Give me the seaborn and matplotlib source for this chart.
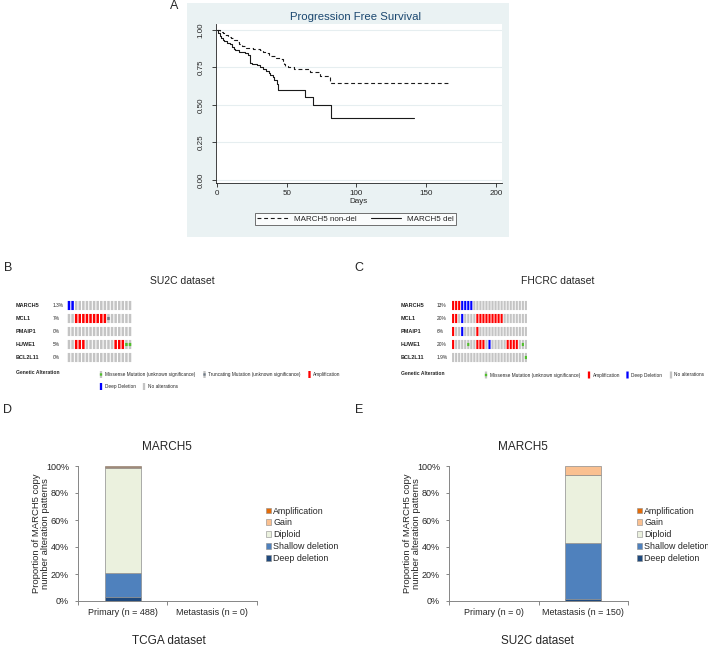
"""
Multi-panel MARCH5 figure: PFS curve, oncoprints and copy-number stacked bars
"""
import numpy as np
import matplotlib
matplotlib.use('Agg')
import matplotlib.pyplot as plt
from matplotlib.patches import Rectangle, Patch
from matplotlib.lines import Line2D
import seaborn as sns

sns.set_theme(style='white')
plt.rcParams['font.family'] = ['Liberation Sans', 'DejaVu Sans']

# ---- Panel A: Kaplan-Meier steps ----
nondel_days = [0, 2, 4, 6, 8, 10, 12, 14, 16, 18, 21, 26, 31, 33, 35, 37, 39, 42, 45, 47,
               48, 49, 51, 55, 67, 74, 81, 166]
nondel_surv = [1.0, 0.99, 0.98, 0.965, 0.955, 0.945, 0.935, 0.92, 0.91, 0.895, 0.88, 0.875,
               0.865, 0.855, 0.845, 0.835, 0.825, 0.815, 0.805, 0.79, 0.775, 0.76, 0.75,
               0.74, 0.72, 0.69, 0.645, 0.645]
del_days = [0, 1, 2, 3, 4, 5, 7, 9, 11, 12, 13, 16, 20, 22, 24, 25, 29, 31, 33, 35,
            37, 38, 40, 41, 43, 44, 63, 69, 82, 141]
del_surv = [1.0, 0.98, 0.96, 0.95, 0.935, 0.925, 0.915, 0.905, 0.89, 0.875, 0.865, 0.855,
            0.845, 0.835, 0.78, 0.775, 0.765, 0.755, 0.74, 0.725, 0.71, 0.70, 0.685, 0.665,
            0.64, 0.60, 0.55, 0.50, 0.415, 0.415]

# ---- Panels B/C: oncoprints ('.' none, A amp, D deep del, M missense, T truncating) ----
genes = ['MARCH5', 'MCL1', 'PMAIP1', 'HUWE1', 'BCL2L11']
su2c_rows = ['DD................',
             '..AAAAAAAAAT......',
             '..................',
             '..AAA........AAAMM',
             '..................']
su2c_pcts = ['1.3%', '7%', '0%', '5%', '0%']
fhcrc_rows = ['AAADDDD..................',
              'AA.D....AAAAAAAAA........',
              'A..D....A................',
              'A....M..AAA.D.....AAAA.M.',
              '........................M']
fhcrc_pcts = ['13%', '20%', '6%', '20%', '1.9%']

# ---- Panels D/E: copy number proportions (%) ----
cn_names = ['Deep deletion', 'Shallow deletion', 'Diploid', 'Gain', 'Amplification']
cn_colors = ['#1f497d', '#4f81bd', '#ebf1de', '#fac090', '#e46c0a']
tcga_groups = ['Primary (n = 488)', 'Metastasis (n = 0)']
tcga_values = {'Deep deletion': [3.2, 0], 'Shallow deletion': [17.6, 0],
               'Diploid': [77.5, 0], 'Gain': [1.2, 0], 'Amplification': [0.5, 0]}
su2c_groups = ['Primary (n = 0)', 'Metastasis (n = 150)']
su2c_values = {'Deep deletion': [0, 1.3], 'Shallow deletion': [0, 41.7],
               'Diploid': [0, 50.7], 'Gain': [0, 6.3], 'Amplification': [0, 0]}

W, H = 708, 646
fig = plt.figure(figsize=(W / 100, H / 100), dpi=100)


def add_ax(x0, y0, x1, y1):
    """axes from pixel box (top-left origin)"""
    return fig.add_axes([x0 / W, 1 - y1 / H, (x1 - x0) / W, (y1 - y0) / H])


def ftext(x, y, s, **kw):
    kw.setdefault('ha', 'center')
    kw.setdefault('va', 'center')
    fig.text(x / W, 1 - y / H, s, **kw)


def frect(xc, yc, w, h, color):
    fig.patches.append(Rectangle(((xc - w / 2) / W, 1 - (yc + h / 2) / H), w / W, h / H,
                                 transform=fig.transFigure, facecolor=color,
                                 edgecolor='none', zorder=2, snap=False))


# ================= Panel A =================
fig.patches.append(Rectangle((187 / W, 1 - 237 / H), (509 - 187) / W, (237 - 3) / H,
                             transform=fig.transFigure, facecolor='#eaf2f3',
                             edgecolor='none', zorder=-5))
dash = (0, (3.5, 2.5))
ax = add_ax(216, 24, 502, 183)
ax.set_zorder(1)
ax.set_facecolor('white')
sns.lineplot(x=nondel_days, y=nondel_surv, drawstyle='steps-post', estimator=None,
             ax=ax, color='#1a1a1a', lw=0.8, linestyle=dash, legend=False)
sns.lineplot(x=del_days, y=del_surv, drawstyle='steps-post', estimator=None,
             ax=ax, color='#1a1a1a', lw=0.8, legend=False)
ax.set_xlim(-0.7, 204.3)
ax.set_ylim(-0.02, 1.04)
ax.set_xticks([0, 50, 100, 150, 200])
ax.set_yticks([0, 0.25, 0.5, 0.75, 1.0])
ax.set_yticklabels(['0.00', '0.25', '0.50', '0.75', '1.00'], rotation=90, va='center')
ax.yaxis.grid(True, color='#e6eef0', lw=0.8)
ax.xaxis.grid(False)
ax.set_axisbelow(True)
for s in ['top', 'right']:
    ax.spines[s].set_visible(False)
for s in ['left', 'bottom']:
    ax.spines[s].set_color('#222222')
    ax.spines[s].set_linewidth(0.6)
ax.tick_params(axis='y', direction='out', length=3, width=0.6, labelsize=5.8, pad=5,
               left=True, color='#222222')
ax.tick_params(axis='x', direction='out', length=3, width=0.6, labelsize=5.8, pad=2,
               bottom=True, color='#222222')
ax.set_xlabel('Days', fontsize=5.8, labelpad=1)
ax.set_ylabel('')
ftext(356, 17, 'Progression Free Survival', fontsize=8.2, color='#1a476f')
handles = [Line2D([], [], color='#1a1a1a', lw=0.8, ls=dash),
           Line2D([], [], color='#1a1a1a', lw=0.8)]
leg = fig.legend(handles, ['MARCH5 non-del', 'MARCH5 del'], loc='center',
                 bbox_to_anchor=(355.5 / W, 1 - 219 / H), ncol=2, fontsize=5.8,
                 frameon=True, fancybox=False, edgecolor='#333333', handlelength=3.8,
                 columnspacing=1.8, borderpad=0.3, handletextpad=0.7)
leg.get_frame().set_linewidth(0.6)
leg.get_frame().set_facecolor('white')

# ================= Panels B / C =================
cell_colors = {'A': '#ff0000', 'D': '#0000ff'}
grey = '#c4c4c4'
green = '#4fbf2a'
trunc = '#6f7a86'


def oncoprint(x0, x1, rows, pcts, gene_x, pct_x, title, title_x):
    oax = add_ax(x0, 299, x1, 364)
    ncol = len(rows[0])
    oax.set_xlim(-0.5, ncol - 0.5)
    oax.set_ylim(len(rows) - 0.5, -0.5)
    oax.axis('off')
    cols = np.arange(ncol)
    for r, codes in enumerate(rows):
        base = [cell_colors.get(c, grey) for c in codes]
        oax.bar(cols, 0.7, bottom=r - 0.35, width=0.7, color=base, lw=0, snap=False)
        for mark, color in (('M', green), ('T', trunc)):
            idx = [i for i, c in enumerate(codes) if c == mark]
            if idx:
                oax.bar(idx, 0.24, bottom=r - 0.12, width=0.7, color=color, lw=0,
                        snap=False)
        ftext(gene_x, 305.5 + 13 * r, genes[r], ha='left', fontsize=4.0, fontweight='bold')
        ftext(pct_x, 305.5 + 13 * r, pcts[r], ha='left', fontsize=3.5)
    ftext(title_x, 281, title, fontsize=7.5)


oncoprint(67.2, 131.8, su2c_rows, su2c_pcts, 16, 52.5, 'SU2C dataset', 182)
oncoprint(451.6, 527.4, fhcrc_rows, fhcrc_pcts, 401, 437, 'FHCRC dataset', 558)


def legend_item(x, y, code, label):
    frect(x, y, 2.3, 7, cell_colors.get(code, grey))
    if code == 'M':
        frect(x, y, 2.3, 2.4, green)
    if code == 'T':
        frect(x, y, 2.3, 2.4, trunc)
    ftext(x + 3.5, y, label, ha='left', fontsize=3.4)


ftext(16, 373, 'Genetic Alteration', ha='left', fontsize=3.6, fontweight='bold')
legend_item(101, 374.5, 'M', 'Missense Mutation (unknown significance)')
legend_item(204.5, 374.5, 'T', 'Truncating Mutation (unknown significance)')
legend_item(309.5, 374.5, 'A', 'Amplification')
legend_item(101, 386.5, 'D', 'Deep Deletion')
legend_item(144, 386.5, '.', 'No alterations')

ftext(401, 373.5, 'Genetic Alteration', ha='left', fontsize=3.6, fontweight='bold')
legend_item(486, 375, 'M', 'Missense Mutation (unknown significance)')
legend_item(589, 375, 'A', 'Amplification')
legend_item(627.5, 375, 'D', 'Deep Deletion')
legend_item(671, 375, '.', 'No alterations')

# ================= Panels D / E =================


def cn_bars(x0, x1, groups, values, title_x, dataset, dataset_x, leg_x):
    bax = add_ax(x0, 466, x1, 601)
    bax.set_facecolor('white')
    pos = np.arange(len(groups))
    bottom = np.zeros(len(groups))
    for name, color in zip(cn_names, cn_colors):
        vals = np.array(values[name], dtype=float)
        lws = [0.5 if v > 0 else 0 for v in vals]
        bax.bar(pos, vals, bottom=bottom, width=0.4, color=color,
                edgecolor='#8c8c8c', linewidth=lws)
        bottom += vals
    bax.set_xlim(-0.5, 1.5)
    bax.set_ylim(0, 100)
    bax.set_yticks(range(0, 101, 20))
    bax.set_yticklabels([f'{v}%' for v in range(0, 101, 20)])
    bax.set_xticks([-0.5, 0.5, 1.5])
    bax.set_xticklabels([])
    bax.set_xticks(pos, minor=True)
    bax.set_xticklabels(groups, minor=True)
    for s in ['top', 'right']:
        bax.spines[s].set_visible(False)
    for s in ['left', 'bottom']:
        bax.spines[s].set_color('#868686')
        bax.spines[s].set_linewidth(0.7)
    bax.tick_params(axis='y', which='major', direction='out', length=2.5, width=0.7,
                    color='#868686', labelsize=6.5, pad=4, left=True)
    bax.tick_params(axis='x', which='major', direction='out', length=3, width=0.7,
                    color='#868686', bottom=True)
    bax.tick_params(axis='x', which='minor', length=0, labelsize=6.5, pad=5)
    bax.grid(False)
    bax.set_ylabel('Proportion of MARCH5 copy\nnumber alteration patterns',
                   fontsize=6.8, linespacing=1.0)
    bax.yaxis.set_label_coords(-0.156, 0.5)
    ftext(title_x, 447, 'MARCH5', fontsize=8.5)
    ftext(dataset_x, 641, dataset, fontsize=8.5)
    lh = [Patch(facecolor=c, edgecolor='#8c8c8c', lw=0.4, label=n)
          for n, c in zip(cn_names, cn_colors)][::-1]
    fig.legend(handles=lh, loc='upper left', bbox_to_anchor=(leg_x / W, 1 - 506.5 / H),
               frameon=False, fontsize=6.4, handlelength=0.6, handleheight=0.6,
               handletextpad=0.25, labelspacing=0.32, borderpad=0, borderaxespad=0)


cn_bars(78, 257, tcga_groups, tcga_values, 167, 'TCGA dataset', 169, 265.5)
cn_bars(449, 628, su2c_groups, su2c_values, 523, 'SU2C dataset', 537, 636.5)

# ---- panel letters ----
for letter, (x, y) in {'A': (174, 6), 'B': (8, 268), 'C': (359, 268),
                       'D': (8, 410), 'E': (359, 410)}.items():
    ftext(x, y, letter, fontsize=9)

plt.savefig('out.png', dpi=100)
plt.close()
